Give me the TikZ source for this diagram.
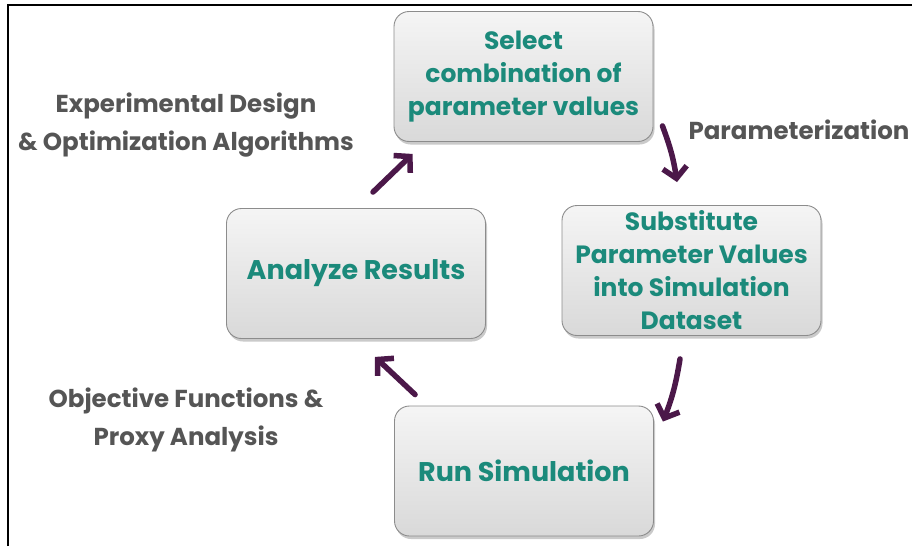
\documentclass[tikz,border=0pt]{standalone}
\usepackage{fontspec}
\setmainfont{Poppins}
\usetikzlibrary{shadows,arrows.meta,calc}
\definecolor{boxtext}{HTML}{1B8A7B}
\definecolor{labeltext}{HTML}{555555}
\definecolor{arrowcol}{HTML}{4B1849}
\definecolor{boxedge}{HTML}{8C8C8C}
\tikzset{
  stepbox/.style={rectangle, rounded corners=15pt, draw=boxedge, line width=0.9pt,
    top color=gray!8, bottom color=gray!30,
    minimum width=259pt, minimum height=130pt, inner sep=2pt,
    align=center, text=boxtext,
    font=\fontsize{25}{33}\selectfont\bfseries,
    drop shadow={shadow xshift=1.5pt, shadow yshift=-3pt, opacity=0.35, fill=black!60}},
  bigtext/.style={font=\fontsize{27}{33}\selectfont\bfseries},
  sidelabel/.style={align=center, text=labeltext, inner sep=0pt,
    font=\fontsize{24.5}{38}\selectfont\bfseries},
  flow/.style={draw=arrowcol, line width=5.5pt, line cap=round,
    -{Straight Barb[length=11pt, width=24pt, line width=5.5pt]}}
}
\begin{document}
\begin{tikzpicture}[x=1pt, y=-1pt]
  \useasboundingbox (0,0) rectangle (912,546);
  % frame lines
  \draw[line width=2pt] (8,546) -- (8,5) -- (912,5);

  % process steps
  \node[stepbox] (select)  at (523.5,76.5) {Select\\combination of\\parameter values};
  \node[stepbox] (subst)   at (691.5,270.5) {Substitute\\Parameter Values\\into Simulation\\Dataset};
  \node[stepbox, bigtext] (run)     at (524,471) {Run Simulation};
  \node[stepbox, bigtext] (analyze) at (356,273.5) {Analyze Results};

  % side labels
  \node[sidelabel] (design) at (186,125) {Experimental Design\\\& Optimization Algorithms};
  \node[sidelabel] (param)  at (799,130) {Parameterization};
  \node[sidelabel] (obj)    at (186,420) {Objective Functions \&\\Proxy Analysis};

  % cycle arrows
  \draw[flow] ([shift={(17,-16)}]analyze.north) -- ([shift={(19,12)}]select.south west);
  \draw[flow] ([shift={(9,-16)}]select.south east) to[bend left=6] ([shift={(-14.5,-23)}]subst.north);
  \draw[flow] ([shift={(-11.5,23)}]subst.south) to[bend left=6] ([shift={(9,16)}]run.north east);
  \draw[flow] ([shift={(21,-11)}]run.north west) -- ([shift={(19,18)}]analyze.south);
\end{tikzpicture}
\end{document}
